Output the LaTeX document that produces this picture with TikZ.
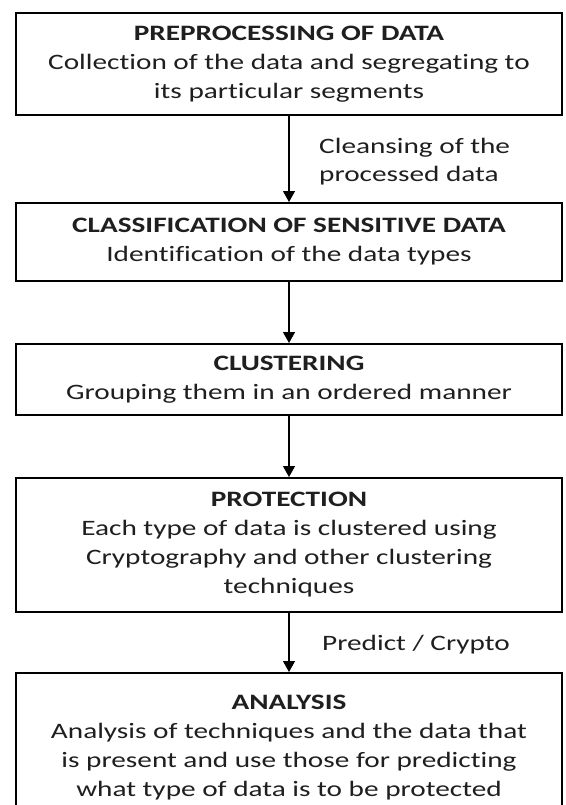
\documentclass[tikz,border=0pt]{standalone}
\usepackage{fontspec}
\setmainfont{Carlito}[FakeStretch=1.33, Ligatures=NoCommon]
\usetikzlibrary{arrows.meta}
\tikzset{
  stage/.style={draw=black, line width=2pt, minimum width=546pt, inner sep=0pt,
    align=center, font=\fontsize{22}{29}\selectfont, text=black!88},
  flow/.style={line width=1.3pt, -{Triangle[length=11pt,width=12pt]}},
  note/.style={align=left, anchor=west, inner sep=0pt,
    font=\fontsize{22}{28}\selectfont, text=black!88}
}
\begin{document}
\begin{tikzpicture}[x=1pt,y=-1pt]
  \path[use as bounding box] (0,0) rectangle (565,805);
  \clip (0,0) rectangle (565,805);
  \fill[white] (0,0) rectangle (565,805);

  \node[stage, minimum height=102pt] (prep) at (289,64)
    {\textbf{PREPROCESSING OF DATA}\\Collection of the data and segregating to\\its particular segments};
  \node[stage, minimum height=78pt] (class) at (289,242)
    {\textbf{CLASSIFICATION OF SENSITIVE DATA}\\Identification of the data types};
  \node[stage, minimum height=71pt] (clust) at (289,379.5)
    {\textbf{CLUSTERING}\\Grouping them in an ordered manner};
  \node[stage, minimum height=134pt] (prot) at (289,545)
    {\textbf{PROTECTION}\\Each type of data is clustered using\\Cryptography and other clustering\\techniques};
  \node[stage, minimum height=150pt] (anal) at (289,748)
    {\textbf{ANALYSIS}\\Analysis of techniques and the data that\\is present and use those for predicting\\what type of data is to be protected};

  \draw[flow] (prep) -- (class);
  \draw[flow] (class) -- (clust);
  \draw[flow] (clust) -- (prot);
  \draw[flow] (prot) -- (anal);

  \node[note] (cleanse) at (319,162) {Cleansing of the\\processed data};
  \node[note] (predict) at (322,645) {Predict / Crypto};
\end{tikzpicture}
\end{document}
